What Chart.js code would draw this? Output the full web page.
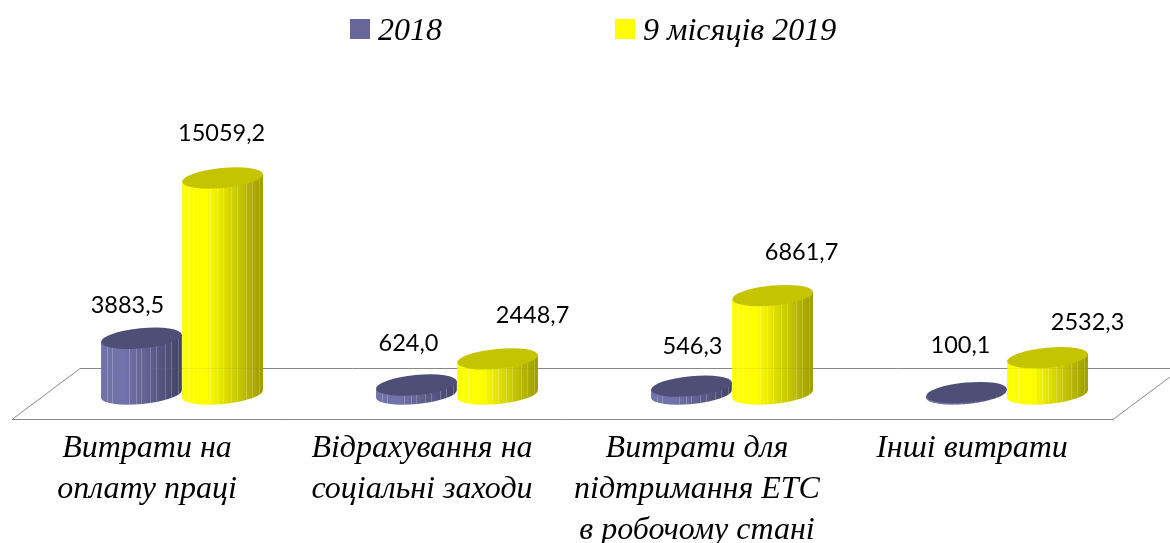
<!DOCTYPE html>
<html>
<head>
<meta charset="utf-8">
<style>
  html, body { margin: 0; padding: 0; background: #fff; overflow: hidden; }
  canvas { display: block; }
</style>
<script src="https://cdn.jsdelivr.net/npm/chart.js@4"></script>
</head>
<body>
<canvas id="myChart" width="1170" height="543"></canvas>
<script>
const categories = [
  ["Витрати на", "оплату праці"],
  ["Відрахування на", "соціальні заходи"],
  ["Витрати для", "підтримання ЕТС", "в робочому стані"],
  ["Інші витрати"],
];
const seriesNames = ["2018", "9 місяців 2019"];
const values2018 = [3883.5, 624.0, 546.3, 100.1];
const values2019 = [15059.2, 2448.7, 6861.7, 2532.3];

// where each value label sits relative to the top of its cylinder
const labelShift2018 = [[-14, -33], [-8, -42], [1, -40], [-6, -47]];
const labelShift2019 = [[-1, -45], [35, -43], [29, -43], [40, -35]];

const purple = { legend: "#666699", light: "#7272aa", dark: "#434368", top: "#4e4e76" };
const yellow = { legend: "#ffff00", light: "#ffff00", dark: "#9c9c00", top: "#c4c400" };

// light seams on the cylinder side, as fractions of its width
const seams = [0.07, 0.13, 0.34, 0.43, 0.5, 0.6, 0.68, 0.79, 0.86, 0.95];

const TILT = (5.5 * Math.PI) / 180;
const RY = 10;

function drawCylinder(ctx, bar, look) {
  const rx = bar.width / 2;
  const cx = bar.x;
  const topY = bar.y;
  const baseY = bar.base;
  const ex = rx * Math.cos(TILT);
  const ey = rx * Math.sin(TILT);

  ctx.save();
  ctx.beginPath();
  ctx.ellipse(cx, baseY, rx, RY, -TILT, 0, Math.PI);
  ctx.lineTo(cx - ex, topY + ey);
  ctx.lineTo(cx + ex, topY - ey);
  ctx.closePath();

  const grad = ctx.createLinearGradient(cx - ex, 0, cx + ex, 0);
  grad.addColorStop(0, look.light);
  grad.addColorStop(0.3, look.light);
  grad.addColorStop(1, look.dark);
  ctx.fillStyle = grad;
  ctx.fill();
  ctx.clip();

  ctx.strokeStyle = "rgba(255,255,255,0.22)";
  ctx.lineWidth = 1;
  seams.forEach((f) => {
    const x = Math.round(cx - ex + f * 2 * ex) + 0.5;
    ctx.beginPath();
    ctx.moveTo(x, topY - RY - ey);
    ctx.lineTo(x, baseY + RY + ey);
    ctx.stroke();
  });

  // the back edge of the floor shows faintly through the side
  ctx.strokeStyle = "rgba(120,120,120,0.12)";
  ctx.beginPath();
  ctx.moveTo(cx - ex, 368.5);
  ctx.lineTo(cx + ex, 368.5);
  ctx.stroke();
  ctx.restore();

  ctx.beginPath();
  ctx.ellipse(cx, topY, rx, RY, -TILT, 0, Math.PI * 2);
  ctx.fillStyle = look.top;
  ctx.fill();
}

const looks = [purple, yellow];
const shifts = [labelShift2018, labelShift2019];

const floorPlugin = {
  id: "floor",
  beforeDatasetsDraw(chart) {
    const ctx = chart.ctx;
    ctx.save();
    ctx.strokeStyle = "#888";
    ctx.lineWidth = 1;
    ctx.beginPath();
    ctx.moveTo(1170, 368.5);
    ctx.lineTo(80, 368.5);
    ctx.lineTo(12, 419.5);
    ctx.lineTo(1113, 419.5);
    ctx.lineTo(1170, 377);
    ctx.stroke();
    ctx.restore();
  },
};

const cylinderPlugin = {
  id: "cylinders",
  beforeDatasetDraw() {
    // plain rectangles are skipped, cylinders go on in afterDatasetsDraw
    return false;
  },
  afterDatasetsDraw(chart) {
    const ctx = chart.ctx;
    chart.data.datasets.forEach((ds, i) => {
      chart.getDatasetMeta(i).data.forEach((bar) => drawCylinder(ctx, bar, looks[i]));
    });
    ctx.save();
    ctx.font = "23.5px Lato";
    ctx.fillStyle = "#000";
    ctx.textAlign = "center";
    ctx.textBaseline = "middle";
    chart.data.datasets.forEach((ds, i) => {
      chart.getDatasetMeta(i).data.forEach((bar, j) => {
        const text = ds.data[j].toFixed(1).replace(".", ",");
        ctx.fillText(text, bar.x + shifts[i][j][0], bar.y + shifts[i][j][1]);
      });
    });
    ctx.restore();
  },
};

const legendPlugin = {
  id: "topLegend",
  afterDraw(chart) {
    const ctx = chart.ctx;
    const spots = [350, 615];
    ctx.save();
    ctx.font = "italic 32px 'Liberation Serif'";
    ctx.textBaseline = "middle";
    seriesNames.forEach((name, i) => {
      ctx.fillStyle = looks[i].legend;
      ctx.fillRect(spots[i], 19, 20, 20);
      ctx.fillStyle = "#000";
      ctx.fillText(name, spots[i] + 28, 32);
    });
    ctx.restore();
  },
};

new Chart(document.getElementById("myChart"), {
  type: "bar",
  data: {
    labels: categories,
    datasets: [
      { label: seriesNames[0], data: values2018, backgroundColor: purple.legend },
      { label: seriesNames[1], data: values2019, backgroundColor: yellow.legend },
    ],
  },
  options: {
    responsive: false,
    animation: false,
    layout: { padding: { left: 44.5, right: 25.5, top: 164.5, bottom: 0 } },
    categoryPercentage: 0.59,
    barPercentage: 1,
    plugins: { legend: { display: false }, tooltip: { enabled: false } },
    scales: {
      x: {
        grid: { display: false },
        border: { display: false },
        afterFit(scale) {
          scale.height = 149;
        },
        ticks: {
          autoSkip: false,
          maxRotation: 0,
          minRotation: 0,
          padding: 26,
          labelOffset: -35,
          color: "#000",
          font: { family: "'Liberation Serif'", style: "italic", size: 32, lineHeight: 1.28 },
        },
      },
      y: { display: false, min: 0, max: 16000 },
    },
  },
  plugins: [floorPlugin, cylinderPlugin, legendPlugin],
});
</script>
</body>
</html>
